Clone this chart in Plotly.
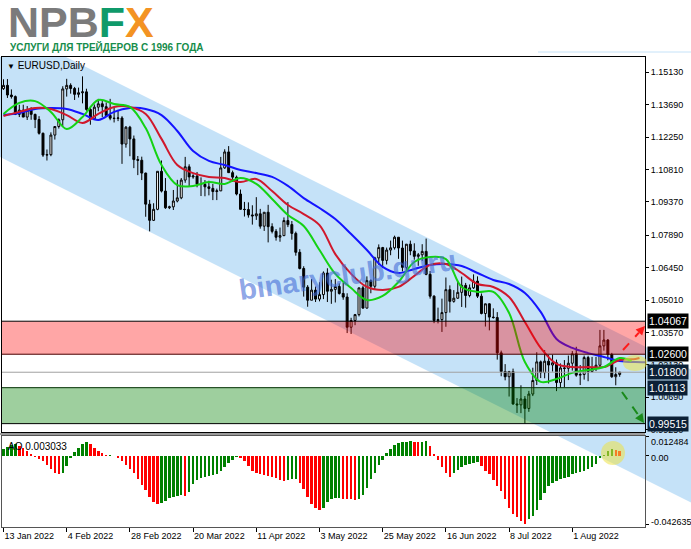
import plotly.graph_objects as go

# ---------------- data ----------------
date_labels = ["13 Jan 2022", "4 Feb 2022", "28 Feb 2022", "20 Mar 2022", "11 Apr 2022",
               "3 May 2022", "25 May 2022", "16 Jun 2022", "8 Jul 2022", "1 Aug 2022"]
date_label_bars = [0, 16, 32, 48, 64, 80, 96, 112, 128, 144]

opens = [1.1440,1.1455,1.1412,1.1405,1.1326,1.1345,1.1314,1.1344,1.1326,1.1303,
         1.1242,1.1145,1.1147,1.1234,1.1272,1.1302,1.1439,1.1455,1.1441,1.1415,
         1.1422,1.1426,1.1348,1.1306,1.1358,1.1373,1.1360,1.1321,1.1309,1.1308,
         1.1310,1.1194,1.1269,1.1217,1.1125,1.1122,1.1065,1.0927,1.0855,1.0904,
         1.1073,1.0985,1.0911,1.0915,1.0941,1.0955,1.1034,1.1093,1.1048,1.1052,
         1.1016,1.1015,1.1004,1.0997,1.0983,1.0986,1.1088,1.1159,1.1067,1.1047,
         1.0972,1.0904,1.0903,1.0879,1.0875,1.0884,1.0829,1.0891,1.0827,1.0806,
         1.0780,1.0787,1.0854,1.0836,1.0797,1.0713,1.0641,1.0558,1.0500,1.0545,
         1.0505,1.0525,1.0621,1.0540,1.0548,1.0561,1.0530,1.0514,1.0380,1.0410,
         1.0436,1.0555,1.0465,1.0587,1.0562,1.0688,1.0734,1.0677,1.0723,1.0733,
         1.0780,1.0732,1.0646,1.0749,1.0719,1.0695,1.0702,1.0717,1.0615,1.0518,
         1.0410,1.0414,1.0445,1.0547,1.0495,1.0509,1.0535,1.0566,1.0521,1.0555,
         1.0585,1.0518,1.0441,1.0484,1.0425,1.0423,1.0266,1.0183,1.0160,1.0183,
         1.0039,1.0035,1.0061,1.0019,1.0083,1.0143,1.0226,1.0178,1.0229,1.0212,
         1.0222,1.0134,1.0199,1.0197,1.0220,1.0262,1.0167,1.0170,1.0245,1.0183,
         1.0197,1.0211,1.0297,1.0323,1.0259,1.0160,1.0170]
highs = [1.1482,1.1483,1.1437,1.1410,1.1369,1.1369,1.1363,1.1358,1.1329,1.1318,
         1.1245,1.1170,1.1246,1.1274,1.1308,1.1451,1.1484,1.1464,1.1448,1.1445,
         1.1495,1.1440,1.1362,1.1370,1.1395,1.1387,1.1379,1.1395,1.1360,1.1346,
         1.1318,1.1274,1.1275,1.1232,1.1141,1.1138,1.1067,1.0946,1.0931,1.1073,
         1.1121,1.1043,1.0920,1.0990,1.1035,1.1043,1.1137,1.1104,1.1060,1.1070,
         1.1046,1.1034,1.1031,1.1017,1.0996,1.1137,1.1171,1.1185,1.1076,1.1054,
         1.0992,1.0937,1.0935,1.0922,1.0958,1.0906,1.0891,1.0924,1.0842,1.0816,
         1.0823,1.0868,1.0936,1.0852,1.0805,1.0727,1.0651,1.0567,1.0594,1.0561,
         1.0580,1.0628,1.0642,1.0591,1.0594,1.0575,1.0580,1.0531,1.0422,1.0439,
         1.0554,1.0564,1.0606,1.0593,1.0693,1.0748,1.0737,1.0734,1.0765,1.0787,
         1.0780,1.0765,1.0750,1.0765,1.0753,1.0710,1.0749,1.0774,1.0630,1.0522,
         1.0467,1.0507,1.0601,1.0566,1.0545,1.0582,1.0605,1.0577,1.0570,1.0615,
         1.0606,1.0530,1.0485,1.0486,1.0464,1.0447,1.0276,1.0216,1.0186,1.0196,
         1.0065,1.0122,1.0074,1.0097,1.0200,1.0269,1.0232,1.0278,1.0257,1.0258,
         1.0236,1.0219,1.0234,1.0254,1.0274,1.0293,1.0212,1.0254,1.0253,1.0248,
         1.0248,1.0368,1.0368,1.0327,1.0266,1.0202,1.0182]
lows = [1.1435,1.1399,1.1396,1.1323,1.1314,1.1314,1.1301,1.1302,1.1265,1.1236,
        1.1137,1.1121,1.1140,1.1214,1.1263,1.1271,1.1405,1.1418,1.1390,1.1401,
        1.1375,1.1342,1.1280,1.1303,1.1340,1.1314,1.1320,1.1300,1.1290,1.1296,
        1.1106,1.1178,1.1140,1.1087,1.1056,1.1034,1.0871,1.0806,1.0852,1.0900,
        1.0979,1.0906,1.0905,1.0901,1.0935,1.0949,1.1022,1.1005,1.1040,1.1002,
        1.0963,1.0962,1.0966,1.0945,1.0945,1.0985,1.1084,1.1066,1.1026,1.0966,
        1.0903,1.0872,1.0867,1.0836,1.0857,1.0818,1.0808,1.0757,1.0797,1.0765,
        1.0760,1.0785,1.0825,1.0769,1.0698,1.0637,1.0516,1.0471,1.0500,1.0492,
        1.0495,1.0505,1.0492,1.0484,1.0490,1.0525,1.0502,1.0354,1.0350,1.0389,
        1.0428,1.0462,1.0463,1.0531,1.0550,1.0657,1.0643,1.0659,1.0700,1.0725,
        1.0684,1.0628,1.0628,1.0700,1.0680,1.0653,1.0675,1.0611,1.0507,1.0398,
        1.0397,1.0359,1.0382,1.0445,1.0489,1.0506,1.0470,1.0467,1.0513,1.0550,
        1.0510,1.0437,1.0383,1.0366,1.0418,1.0236,1.0162,1.0144,1.0072,1.0035,
        0.9999,0.9998,0.9952,1.0004,1.0074,1.0123,1.0154,1.0153,1.0130,1.0183,
        1.0096,1.0111,1.0113,1.0145,1.0187,1.0160,1.0123,1.0147,1.0140,1.0180,
        1.0185,1.0202,1.0276,1.0233,1.0155,1.0122,1.0160]
closes = [1.1455,1.1412,1.1405,1.1326,1.1345,1.1314,1.1344,1.1326,1.1303,1.1242,
          1.1145,1.1147,1.1234,1.1272,1.1302,1.1439,1.1455,1.1441,1.1415,1.1422,
          1.1426,1.1348,1.1306,1.1358,1.1373,1.1360,1.1321,1.1309,1.1308,1.1310,
          1.1194,1.1269,1.1217,1.1125,1.1122,1.1065,1.0927,1.0855,1.0904,1.1073,
          1.0985,1.0911,1.0915,1.0941,1.0955,1.1034,1.1093,1.1048,1.1052,1.1016,
          1.1015,1.1004,1.0997,1.0983,1.0986,1.1088,1.1159,1.1067,1.1047,1.0972,
          1.0904,1.0903,1.0879,1.0875,1.0884,1.0829,1.0891,1.0827,1.0806,1.0780,
          1.0787,1.0854,1.0836,1.0797,1.0713,1.0641,1.0558,1.0500,1.0545,1.0505,
          1.0525,1.0621,1.0540,1.0548,1.0561,1.0530,1.0514,1.0380,1.0410,1.0436,
          1.0555,1.0465,1.0587,1.0562,1.0688,1.0734,1.0677,1.0723,1.0733,1.0780,
          1.0732,1.0646,1.0749,1.0719,1.0695,1.0702,1.0717,1.0615,1.0518,1.0410,
          1.0414,1.0445,1.0547,1.0495,1.0509,1.0535,1.0566,1.0521,1.0555,1.0585,
          1.0518,1.0441,1.0484,1.0425,1.0423,1.0266,1.0183,1.0160,1.0183,1.0039,
          1.0035,1.0061,1.0019,1.0083,1.0143,1.0226,1.0178,1.0229,1.0212,1.0222,
          1.0134,1.0199,1.0197,1.0220,1.0262,1.0167,1.0170,1.0245,1.0183,1.0197,
          1.0211,1.0297,1.0323,1.0259,1.0160,1.0170,1.0180]

# Alligator lines (at every 4th bar)
jaw_bars = [0,4,8,12,16,20,24,28,32,36,40,44,48,52,56,60,64,68,72,76,80,84,88,92,96,
            100,104,108,112,116,120,124,128,132,136,140,144,148,152,156,160,164]
jaw = [1.1323,1.1332,1.1350,1.1354,1.1350,1.1328,1.1301,1.1337,1.1354,1.1350,1.1323,1.1252,
       1.1163,1.1119,1.1101,1.1079,1.1065,1.1048,1.1008,1.0954,1.0910,1.0861,1.0794,1.0723,
       1.0648,1.0621,1.0639,1.0657,1.0661,1.0652,1.0621,1.0590,1.0572,1.0532,1.0448,1.0328,
       1.0288,1.0265,1.0248,1.0230,1.0225,1.0225]
teeth_bars = [0,4,8,12,16,20,24,28,32,36,40,44,48,52,56,60,64,68,72,76,80,84,88,92,96,
              100,104,108,112,116,120,124,128,132,136,140,144,148,152,156,160,161]
teeth = [1.1319,1.1337,1.1354,1.1350,1.1323,1.1288,1.1328,1.1359,1.1359,1.1328,1.1217,1.1101,
         1.1065,1.1048,1.1043,1.1025,1.1039,1.0985,1.0923,1.0883,1.0834,1.0705,1.0617,1.0559,
         1.0545,1.0559,1.0608,1.0657,1.0661,1.0621,1.0572,1.0559,1.0514,1.0403,1.0288,1.0217,
         1.0203,1.0203,1.0203,1.0234,1.0239,1.0243]
lips_bars = [0,4,8,12,16,20,24,28,32,36,40,44,48,52,56,60,64,68,72,76,80,84,88,92,96,
             100,104,108,112,116,120,124,128,132,136,140,144,148,152,156,159]
lips = [1.1328,1.1377,1.1385,1.1337,1.1261,1.1314,1.1390,1.1372,1.1359,1.1265,1.1101,1.1012,
        1.1008,1.1025,1.1017,1.1043,1.1017,1.0950,1.0879,1.0830,1.0723,1.0617,1.0554,1.0501,
        1.0519,1.0581,1.0670,1.0692,1.0683,1.0559,1.0537,1.0537,1.0443,1.0225,1.0137,1.0150,
        1.0177,1.0190,1.0203,1.0243,1.0230]

# Awesome Oscillator, in thousandths
ao_milli = [4.6,5.7,6.9,7.8,6.2,5.1,2.9,1.1,-0.5,-1.7,
            -3.2,-5.5,-8.1,-10.8,-11.6,-10.6,-6.0,-1.4,2.5,5.1,
            7.7,8.5,7.2,5.1,2.8,2.0,0.6,0.8,0.1,-1.0,
            -3.0,-5.7,-8.3,-10.6,-14.7,-17.9,-21.6,-25.5,-28.9,-30.3,
            -29.6,-28.5,-26.6,-25.5,-25.3,-24.4,-24.8,-22.4,-17.5,-15.2,
            -13.8,-12.9,-12.4,-11.8,-11.0,-9.2,-6.9,-4.6,-2.3,-0.7,
            -1.4,-3.0,-6.0,-9.2,-10.6,-11.3,-11.9,-12.4,-13.0,-14.0,
            -15.2,-15.4,-14.9,-14.7,-14.3,-17.0,-20.7,-25.7,-29.9,-32.4,
            -33.6,-32.6,-28.9,-27.2,-26.5,-26.2,-26.7,-26.8,-27.2,-27.4,
            -26.9,-24.4,-19.8,-14.5,-10.4,-5.8,-2.6,1.7,4.6,6.7,
            7.9,8.5,9.0,9.2,9.0,8.6,8.9,9.1,6.4,1.4,
            -2.3,-6.9,-10.6,-13.2,-10.6,-8.5,-6.9,-5.9,-5.1,-4.7,
            -4.0,-6.0,-9.2,-11.5,-15.2,-18.8,-22.1,-27.1,-32.6,-36.3,
            -38.1,-40.5,-42.635,-39.5,-37.8,-33.6,-27.6,-23.0,-18.8,-16.8,
            -15.6,-14.5,-14.0,-12.9,-11.4,-10.9,-10.3,-9.4,-8.4,-7.0,
            -5.1,-1.4,0.9,3.3,4.2,3.6,3.033]

price_ticks = [1.15130, 1.13690, 1.12250, 1.10810, 1.09370, 1.07890, 1.06450,
               1.05010, 1.03570, 1.02130, 1.00690, 0.99250]
resistance_top, resistance_bottom = 1.04067, 1.02600
support_top, support_bottom = 1.01113, 0.99515
current_price = 1.01800
ao_labels = [0.012484, 0.0, -0.042635]
ao_label_text = ["0.012484", "0.00", "-0.042635"]

# ---------------- layout geometry ----------------
W, H = 691, 549
L, R, T, B = 2, 46, 57, 22
PW, PH = W - L - R, H - T - B


def px(x):
    return (x - L) / PW


def py(y):
    return (H - B - y) / PH


bars = list(range(len(closes)))
ao = [v / 1000 for v in ao_milli]
ao_colors = ["#008000"] + ["#008000" if ao[i] > ao[i - 1] else "#ff0000" for i in range(1, len(ao))]

fig = go.Figure()
fig.add_trace(go.Candlestick(
    x=bars, open=opens, high=highs, low=lows, close=closes,
    increasing=dict(line=dict(color="#000000", width=1), fillcolor="#ffffff"),
    decreasing=dict(line=dict(color="#000000", width=1), fillcolor="#000000"),
    whiskerwidth=0, xaxis="x", yaxis="y", hoverinfo="skip"))
for xs, ys, col in [(jaw_bars, jaw, "#1414ff"), (teeth_bars, teeth, "#d0182c"), (lips_bars, lips, "#14d214")]:
    fig.add_trace(go.Scatter(x=xs, y=ys, mode="lines", line=dict(color=col, width=2, shape="spline", smoothing=1.0),
                             xaxis="x", yaxis="y", hoverinfo="skip"))
fig.add_trace(go.Bar(x=bars, y=ao, marker=dict(color=ao_colors, line=dict(width=0)), width=0.62,
                     xaxis="x2", yaxis="y2", hoverinfo="skip"))

xr = [(L - 3.5) / 3.95, (W - R - 3.5) / 3.95]
font_axis = dict(family="Liberation Sans, Arial, sans-serif", size=9, color="#000000")

fig.update_layout(
    width=W, height=H, margin=dict(l=L, r=R, t=T, b=B),
    paper_bgcolor="#ffffff", plot_bgcolor="rgba(0,0,0,0)",
    showlegend=False, hovermode=False, bargap=0,
    xaxis=dict(domain=[0, 1], range=xr, anchor="y", showticklabels=False, ticks="",
               showline=True, mirror=True, linecolor="#000000", linewidth=1, showgrid=False,
               zeroline=False, rangeslider=dict(visible=False), fixedrange=True),
    xaxis2=dict(domain=[0, 1], range=xr, anchor="y2", tickmode="array", tickvals=date_label_bars,
                ticktext=date_labels, ticks="outside", ticklen=4, tickcolor="#000000",
                ticklabelposition="outside right", tickfont=font_axis,
                showline=True, mirror=True, linecolor="#555555", linewidth=1, showgrid=False, zeroline=False),
    yaxis=dict(domain=[py(432), 1], range=[0.99143, 1.1581], anchor="x", side="right",
               tickmode="array", tickvals=price_ticks, ticktext=["%.5f" % v for v in price_ticks],
               ticks="outside", ticklen=3, tickcolor="#000000", tickfont=font_axis,
               showline=True, mirror=True, linecolor="#000000", linewidth=1, showgrid=False, zeroline=False),
    yaxis2=dict(domain=[0, py(436)], range=[-0.0445, 0.0125], anchor="x2", side="right",
                tickmode="array", tickvals=ao_labels, showticklabels=False,
                ticks="outside", ticklen=3, tickcolor="#000000",
                showline=True, mirror=True, linecolor="#555555", linewidth=1, showgrid=False, zeroline=False),
)

shapes = []
# descending channel (drawn in screen space, also over axis area)
chan = [(0, 57), (66, 57), (691, 369.5), (691, 502.5), (0, 157)]
path = "M " + " L ".join("%.5f,%.5f" % (px(a), py(b)) for a, b in chan) + " Z"
shapes.append(dict(type="path", xref="paper", yref="paper", path=path, fillcolor="#c5e2f8",
                   line=dict(width=0), layer="below"))
# zones
shapes.append(dict(type="rect", xref="paper", yref="y", x0=0, x1=1, y0=resistance_bottom, y1=resistance_top,
                   fillcolor="rgba(255,0,0,0.35)", line=dict(width=0), layer="above"))
shapes.append(dict(type="rect", xref="paper", yref="y", x0=0, x1=1, y0=support_bottom, y1=support_top,
                   fillcolor="rgba(0,130,0,0.38)", line=dict(width=0), layer="above"))
for lv, col in [(resistance_top, "#000000"), (resistance_bottom, "#4a0000"),
                (support_top, "#003000"), (support_bottom, "#000000")]:
    shapes.append(dict(type="line", xref="paper", yref="y", x0=0, x1=1, y0=lv, y1=lv,
                       line=dict(color=col, width=1), layer="above"))
shapes.append(dict(type="line", xref="paper", yref="y", x0=0, x1=1, y0=current_price, y1=current_price,
                   line=dict(color="#a0a0a0", width=1), layer="above"))
# separator between panes
shapes.append(dict(type="line", xref="paper", yref="paper", x0=px(0), x1=1, y0=py(434), y1=py(434),
                   line=dict(color="#9a9a9a", width=2)))
# arrows
shapes.append(dict(type="line", xref="paper", yref="paper", x0=px(623), y0=py(350), x1=px(638.9), y1=py(332.6),
                   line=dict(color="#ff1a1a", width=2, dash="dash")))
shapes.append(dict(type="path", xref="paper", yref="paper",
                   path="M %.5f,%.5f L %.5f,%.5f L %.5f,%.5f Z" % (px(645), py(326), px(642.2), py(335.6), px(635.6), py(329.6)),
                   fillcolor="#ff1a1a", line=dict(width=0)))
shapes.append(dict(type="line", xref="paper", yref="paper", x0=px(622), y0=py(392), x1=px(638.8), y1=py(415.7),
                   line=dict(color="#1a8a1a", width=2, dash="dash")))
shapes.append(dict(type="path", xref="paper", yref="paper",
                   path="M %.5f,%.5f L %.5f,%.5f L %.5f,%.5f Z" % (px(644), py(423), px(642.5), py(413.1), px(635.1), py(418.3)),
                   fillcolor="#1a8a1a", line=dict(width=0)))
# highlight circles
shapes.append(dict(type="circle", xref="paper", yref="paper", x0=px(623), x1=px(647), y0=py(371), y1=py(355),
                   fillcolor="rgba(236,226,70,0.55)", line=dict(width=0)))
shapes.append(dict(type="circle", xref="paper", yref="paper", x0=px(601), x1=px(625), y0=py(465), y1=py(441),
                   fillcolor="rgba(236,226,70,0.55)", line=dict(width=0)))
# thin line top right
shapes.append(dict(type="line", xref="paper", yref="paper", x0=px(538), x1=px(691), y0=py(52), y1=py(52),
                   line=dict(color="#c5e2f8", width=1)))
fig.update_layout(shapes=shapes)

ann = []
ann.append(dict(xref="paper", yref="paper", x=px(6), y=py(22), xanchor="left", yanchor="middle", showarrow=False,
                text="<b><span style='color:#7b7b7b'>NPB</span><span style='color:#0f9a6a'>F</span>"
                     "<span style='color:#f39323'>X</span></b>",
                font=dict(family="Liberation Sans, Arial, sans-serif", size=43)))
ann.append(dict(xref="paper", yref="paper", x=px(8), y=py(47), xanchor="left", yanchor="middle", showarrow=False,
                text="<b>УСЛУГИ ДЛЯ ТРЕЙДЕРОВ С 1996 ГОДА</b>",
                font=dict(family="Liberation Sans Narrow, Liberation Sans, Arial, sans-serif", size=10, color="#178d4c")))
ann.append(dict(xref="paper", yref="paper", x=px(5), y=py(66), xanchor="left", yanchor="middle", showarrow=False,
                text="<span style='font-size:8px'>▼</span> EURUSD,Daily",
                font=dict(family="Liberation Sans, Arial, sans-serif", size=10, color="#000000")))
ann.append(dict(xref="paper", yref="paper", x=px(347), y=py(275), xanchor="center", yanchor="middle", showarrow=False,
                text="<b>binaryclub.guru</b>", textangle=-8,
                font=dict(family="Liberation Sans, Arial, sans-serif", size=29, color="rgba(70,110,215,0.62)")))
ann.append(dict(xref="paper", yref="paper", x=px(6), y=py(446), xanchor="left", yanchor="middle", showarrow=False,
                text="AO 0.003033", font=dict(family="Liberation Sans, Arial, sans-serif", size=10, color="#000000")))
for v, txt, yy in zip(ao_labels, ao_label_text, [442, 458, 522]):
    ann.append(dict(xref="paper", yref="paper", x=1, xshift=4, y=py(yy), xanchor="left", yanchor="middle",
                    showarrow=False, text=txt, font=font_axis))
for lv, bg in [(resistance_top, "#000000"), (resistance_bottom, "#000000"), (current_price, "#0b2036"),
               (support_top, "#0b2036"), (support_bottom, "#0b2036")]:
    ann.append(dict(xref="paper", yref="y", x=1, xshift=2, y=lv, xanchor="left", yanchor="middle",
                    showarrow=False, text="%.5f" % lv, bgcolor=bg, borderpad=1,
                    font=dict(family="Liberation Sans, Arial, sans-serif", size=10.5, color="#ffffff")))
fig.update_layout(annotations=ann)

fig.write_html("out.html", config={"displayModeBar": False, "staticPlot": True},
               post_script="document.body.style.margin='0px';document.body.style.overflow='hidden';")
